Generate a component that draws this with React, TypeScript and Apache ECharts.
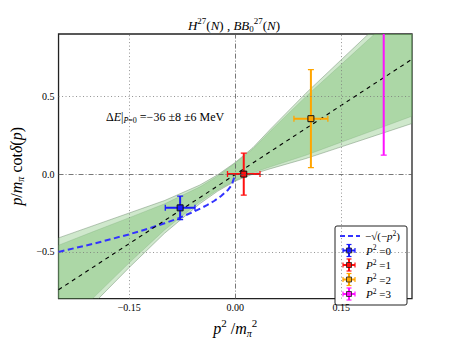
import React, { useEffect, useRef } from "react";
import * as echarts from "echarts";

const serif = "'Liberation Serif', 'DejaVu Serif', serif";

// axis ticks shown
const xTickValues = [-0.15, 0, 0.15];
const xTickText = ["\u22120.15", "0.00", "0.15"];
const yTickValues = [-0.5, 0, 0.5];
const yTickText = ["\u22120.5", "0.0", "0.5"];

// linear fit (black dashed)
const fitX = [-0.25, 0.25];
const fitY = [-0.743, 0.738];

// -sqrt(-p^2) curve (blue dashed)
const sqrtX = [-0.25, -0.2, -0.15, -0.12, -0.1, -0.08, -0.06, -0.04, -0.03, -0.02, -0.01, -0.005, 0];
const sqrtY = [-0.5, -0.447, -0.387, -0.346, -0.316, -0.283, -0.245, -0.2, -0.173, -0.141, -0.1, -0.071, 0];

// error band edges
const bandX = [-0.25, -0.2, -0.15, -0.1, -0.05, -0.025, 0, 0.025, 0.05, 0.1, 0.15, 0.2, 0.25];
const outerUpper = [-0.41, -0.33, -0.25, -0.17, -0.07, -0.005, 0.075, 0.17, 0.29, 0.52, 0.735, 0.95, 1.16];
const outerLower = [-1.06, -0.83, -0.6, -0.38, -0.19, -0.11, -0.045, 0.0, 0.035, 0.1, 0.175, 0.25, 0.325];
const innerUpper = [-0.457, -0.368, -0.28, -0.191, -0.082, -0.013, 0.071, 0.162, 0.278, 0.499, 0.705, 0.912, 1.113];
const innerLower = [-1.013, -0.792, -0.57, -0.359, -0.178, -0.102, -0.041, 0.008, 0.047, 0.121, 0.205, 0.288, 0.372];

// lattice points
const pointLabels = ["0", "1", "2", "3"];
const pointX = [-0.078, 0.012, 0.107, 0.21];
const pointXErr = [0.021, 0.023, 0.024, 0];
const pointY = [-0.217, 0.0, 0.356, 1.0];
const pointYErr = [0.076, 0.135, 0.315, 0.878];
const pointColors = ["#1a1aff", "#ff1010", "#ffa500", "#ff10ff"];

const near = (a: number, b: number) => Math.abs(a - b) < 1e-6;

export default function App() {
  const ref = useRef<HTMLDivElement>(null);
  useEffect(() => {
    if (!ref.current) return;
    const chart = echarts.init(ref.current, undefined, { renderer: "svg" });

    const bandPoly = (upper: number[], lower: number[]) => {
      const pts: number[][] = [];
      bandX.forEach((x, i) => pts.push([x, upper[i]]));
      for (let i = bandX.length - 1; i >= 0; i--) pts.push([bandX[i], lower[i]]);
      return pts;
    };
    const outerPts = bandPoly(outerUpper, outerLower);
    const innerPts = bandPoly(innerUpper, innerLower);

    const gridMarks = [
      ...xTickValues.map((v) => ({
        xAxis: v,
        lineStyle: v === 0 ? { type: [5, 2, 1, 2], color: "#555", width: 0.8 } : { type: [1, 2.5], color: "#777", width: 0.8 },
      })),
      ...yTickValues.map((v) => ({
        yAxis: v,
        lineStyle: v === 0 ? { type: [5, 2, 1, 2], color: "#555", width: 0.8 } : { type: [1, 2.5], color: "#777", width: 0.8 },
      })),
    ];

    const rich = {
      n: { fontFamily: serif, fontSize: 13, color: "#000" },
      i: { fontFamily: serif, fontSize: 13, fontStyle: "italic", color: "#000" },
      sup: { fontFamily: serif, fontSize: 9, color: "#000", padding: [0, 0, 9, 0] },
      sub: { fontFamily: serif, fontSize: 9, color: "#000", padding: [8, 0, 0, 0] },
    };
    const richAnn = {
      n: { fontFamily: serif, fontSize: 12, color: "#000" },
      i: { fontFamily: serif, fontSize: 12, fontStyle: "italic", color: "#000" },
      sub: { fontFamily: serif, fontSize: 8, color: "#000", padding: [7, 0, 0, 0] },
      subi: { fontFamily: serif, fontSize: 8, fontStyle: "italic", color: "#000", padding: [7, 0, 0, 0] },
    };
    const richBig = {
      n: { fontFamily: serif, fontSize: 16, color: "#000" },
      i: { fontFamily: serif, fontSize: 16, fontStyle: "italic", color: "#000" },
      sup: { fontFamily: serif, fontSize: 11, color: "#000", padding: [0, 0, 11, 0] },
      sub: { fontFamily: serif, fontSize: 10, fontStyle: "italic", color: "#000", padding: [9, 0, 0, 0] },
    };
    const richLeg = {
      n: { fontFamily: serif, fontSize: 11, color: "#000" },
      i: { fontFamily: serif, fontSize: 11, fontStyle: "italic", color: "#000" },
      sup: { fontFamily: serif, fontSize: 7.5, color: "#000", padding: [0, 0, 6, 0] },
    };

    const legendX = 335;
    const legendY = 226;
    const rowH = 14.5;
    const legendChildren: any[] = [
      { type: "rect", shape: { x: legendX, y: legendY, width: 72, height: 79, r: 2 }, style: { fill: "#fff", stroke: "#222", lineWidth: 1 } },
      { type: "line", shape: { x1: legendX + 5, y1: legendY + 10, x2: legendX + 25, y2: legendY + 10 }, style: { stroke: "#3333ff", lineWidth: 2, lineDash: [5, 3] } },
      {
        type: "text",
        x: legendX + 30,
        y: legendY + 10,
        style: {
          text: "{n|\u2212\u221a(\u2212}{i|p}{sup|2}{n|)}",
          rich: richLeg,
          verticalAlign: "middle",
        },
      },
    ];
    pointLabels.forEach((lab, k) => {
      const cx = legendX + 14;
      const cy = legendY + 10 + rowH * (k + 1);
      const c = pointColors[k];
      legendChildren.push(
        { type: "line", shape: { x1: cx - 6, y1: cy, x2: cx + 6, y2: cy }, style: { stroke: c, lineWidth: 2 } },
        { type: "line", shape: { x1: cx, y1: cy - 6, x2: cx, y2: cy + 6 }, style: { stroke: c, lineWidth: 2 } },
        { type: "line", shape: { x1: cx - 6, y1: cy - 2.5, x2: cx - 6, y2: cy + 2.5 }, style: { stroke: c, lineWidth: 1.2 } },
        { type: "line", shape: { x1: cx + 6, y1: cy - 2.5, x2: cx + 6, y2: cy + 2.5 }, style: { stroke: c, lineWidth: 1.2 } },
        { type: "line", shape: { x1: cx - 2.5, y1: cy - 6, x2: cx + 2.5, y2: cy - 6 }, style: { stroke: c, lineWidth: 1.2 } },
        { type: "line", shape: { x1: cx - 2.5, y1: cy + 6, x2: cx + 2.5, y2: cy + 6 }, style: { stroke: c, lineWidth: 1.2 } },
        { type: "rect", shape: { x: cx - 2.5, y: cy - 2.5, width: 5, height: 5 }, style: { fill: c, stroke: "#222", lineWidth: 0.8 } },
        {
          type: "text",
          x: legendX + 31,
          y: cy,
          style: {
            text: "{i|P}{sup|2}{n| =" + lab + "}",
            rich: richLeg,
            verticalAlign: "middle",
          },
        }
      );
    });

    const option: any = {
      animation: false,
      backgroundColor: "#fff",
      grid: {
        left: 56,
        right: 45,
        top: 34,
        bottom: 35,
        show: true,
        borderColor: "#222",
        borderWidth: 1.3,
        backgroundColor: "transparent",
      },
      xAxis: {
        type: "value",
        min: -0.25,
        max: 0.25,
        interval: 0.05,
        axisLine: { show: false },
        axisTick: { show: false },
        splitLine: { show: false },
        axisLabel: {
          margin: 4,
          fontFamily: serif,
          fontSize: 10,
          color: "#000",
          showMinLabel: true,
          showMaxLabel: true,
          formatter: (v: number) => {
            const k = xTickValues.findIndex((t) => near(t, v));
            return k >= 0 ? xTickText[k] : "";
          },
        },
        name: "{i|p}{sup|2}{n| /}{i|m}{sub|\u03c0}{sup|2}",
        nameLocation: "middle",
        nameGap: 13,
        nameTextStyle: { rich: richBig, verticalAlign: "top" },
      },
      yAxis: {
        type: "value",
        min: -0.8,
        max: 0.9,
        interval: 0.1,
        axisLine: { show: false },
        axisTick: { show: false },
        splitLine: { show: false },
        axisLabel: {
          margin: 4,
          fontFamily: serif,
          fontSize: 10,
          color: "#000",
          formatter: (v: number) => {
            const k = yTickValues.findIndex((t) => near(t, v));
            return k >= 0 ? yTickText[k] : "";
          },
        },
        name: "{i|p}{n|/}{i|m}{sub|\u03c0}{n| cot}{i|\u03b4}{n|(}{i|p}{n|)}",
        nameLocation: "middle",
        nameGap: 23,
        nameTextStyle: { rich: richBig },
      },
      series: [
        {
          type: "line",
          name: "grid",
          z: 1,
          data: [[0, 0]],
          symbol: "none",
          lineStyle: { opacity: 0 },
          silent: true,
          markLine: {
            silent: true,
            symbol: ["none", "none"],
            label: { show: false },
            data: gridMarks,
          },
        },
        {
          type: "custom",
          name: "band",
          z: 2,
          clip: true,
          silent: true,
          data: [[0, 0]],
          renderItem: (params: any, api: any) => {
            const o = outerPts.map((p) => api.coord(p));
            const inn = innerPts.map((p) => api.coord(p));
            return {
              type: "group",
              children: [
                { type: "polygon", shape: { points: o }, style: { fill: "rgba(110,185,100,0.33)", stroke: "rgba(100,130,100,0.55)", lineWidth: 0.8 } },
                { type: "polygon", shape: { points: inn }, style: { fill: "rgba(110,185,100,0.36)", stroke: "rgba(100,150,100,0.35)", lineWidth: 0.6 } },
              ],
            };
          },
        },
        {
          type: "line",
          name: "\u2212\u221a(\u2212p\u00b2)",
          z: 3,
          data: sqrtX.map((x, i) => [x, sqrtY[i]]),
          symbol: "none",
          smooth: false,
          lineStyle: { color: "#3333ff", width: 2, type: [6, 3.5] },
        },
        {
          type: "line",
          name: "fit",
          z: 3,
          data: fitX.map((x, i) => [x, fitY[i]]),
          symbol: "none",
          lineStyle: { color: "#000", width: 1.1, type: [4, 4] },
        },
        {
          type: "custom",
          name: "points",
          z: 4,
          clip: true,
          data: pointX.map((x, i) => [x, pointY[i], pointXErr[i], pointYErr[i]]),
          renderItem: (params: any, api: any) => {
            const i = params.dataIndex;
            const x = api.value(0);
            const y = api.value(1);
            const xe = api.value(2);
            const ye = api.value(3);
            const color = pointColors[i];
            const c = api.coord([x, y]);
            const t = api.coord([x, y + ye]);
            const b = api.coord([x, y - ye]);
            const children: any[] = [
              { type: "line", shape: { x1: t[0], y1: t[1], x2: b[0], y2: b[1] }, style: { stroke: color, lineWidth: 2 } },
              { type: "line", shape: { x1: t[0] - 3, y1: t[1], x2: t[0] + 3, y2: t[1] }, style: { stroke: color, lineWidth: 1.3 } },
              { type: "line", shape: { x1: b[0] - 3, y1: b[1], x2: b[0] + 3, y2: b[1] }, style: { stroke: color, lineWidth: 1.3 } },
            ];
            if (xe > 0) {
              const l = api.coord([x - xe, y]);
              const r = api.coord([x + xe, y]);
              children.push(
                { type: "line", shape: { x1: l[0], y1: l[1], x2: r[0], y2: r[1] }, style: { stroke: color, lineWidth: 2 } },
                { type: "line", shape: { x1: l[0], y1: l[1] - 3, x2: l[0], y2: l[1] + 3 }, style: { stroke: color, lineWidth: 1.3 } },
                { type: "line", shape: { x1: r[0], y1: r[1] - 3, x2: r[0], y2: r[1] + 3 }, style: { stroke: color, lineWidth: 1.3 } }
              );
            }
            children.push({ type: "rect", shape: { x: c[0] - 3, y: c[1] - 3, width: 6, height: 6 }, style: { fill: color, stroke: "#111", lineWidth: 1 } });
            return { type: "group", children };
          },
        },
      ],
      graphic: [
        {
          type: "text",
          x: 234,
          y: 25,
          style: {
            text: "{i|H}{sup|27}{n|(}{i|N}{n|) , }{i|BB}{sub|0}{sup|27}{n|(}{i|N}{n|)}",
            rich,
            align: "center",
            verticalAlign: "middle",
          },
        },
        {
          type: "text",
          x: 106,
          y: 117,
          style: {
            text: "{n|\u0394}{i|E}{n||}{subi|P\u0304}{sub|=0}{n| =\u221236 \u00b18 \u00b16 MeV}",
            rich: richAnn,
            verticalAlign: "middle",
          },
          z: 10,
        },
        { type: "group", z: 20, children: legendChildren },
      ],
    };
    chart.setOption(option);
    return () => chart.dispose();
  }, []);
  return <div ref={ref} style={{ width: 457, height: 343, position: "absolute", left: 0, top: 0 }} />;
}
